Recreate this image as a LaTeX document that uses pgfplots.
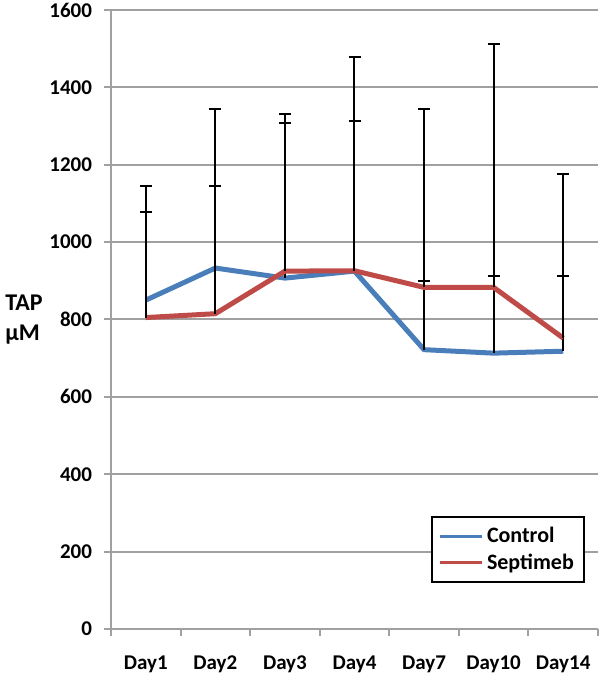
\documentclass[border=0pt]{standalone}
\usepackage{pgfplots}
\pgfplotsset{compat=1.18}
\usepackage{fontspec}
\setmainfont{Carlito}
\definecolor{ctrlblue}{HTML}{4A7EBB}
\definecolor{septred}{HTML}{BE4B48}
\definecolor{gridgray}{HTML}{A0A0A0}

\begin{document}
\begin{tikzpicture}
\begin{axis}[
  at={(0,0)}, anchor=south west,
  scale only axis,
  width=243.5pt, height=309.5pt,
  xmin=-0.5, xmax=6.5, ymin=0, ymax=1600,
  xtick={-0.5,0.5,...,6.5},
  xticklabels={Day1,Day2,Day3,Day4,Day7,Day10,Day14},
  x tick label as interval,
  ytick={0,200,...,1600},
  ymajorgrids, grid style={gridgray, line width=1pt},
  axis lines=left, axis line style={gridgray, line width=1pt, -},
  tick style={gridgray, line width=1pt},
  tick align=outside, major tick length=3.5pt,
  /pgf/number format/assume math mode=true,
  /pgf/number format/1000 sep={},
  tick label style={font=\fontsize{10.5}{12}\selectfont\bfseries},
  xticklabel style={yshift=-6.5pt},
  yticklabel style={xshift=-2.5pt},
  ylabel={TAP\\μM},
  ylabel style={rotate=-90, align=left, anchor=west, inner sep=0pt,
    at={(axis description cs:-0.2177,0.5)},
    font=\fontsize{12}{15}\selectfont\bfseries},
  legend style={at={(axis description cs:0.973,0.074)}, anchor=south east,
    draw=black, line width=1pt, font=\fontsize{11}{13}\selectfont\bfseries,
    inner xsep=3pt, inner ysep=3pt, row sep=0pt},
  legend cell align=left,
  legend image code/.code={\draw[#1, line width=1.5pt] (0pt,0pt) -- (21pt,0pt);},
  error bars/y dir=plus, error bars/y explicit,
  error bars/error bar style={black, line width=1pt},
  error bars/error mark options={rotate=90, mark size=3pt, black, line width=1pt},
]
\addplot[ctrlblue, line width=2.5pt, mark=none] coordinates {
  (0,850) += (0,295)
  (1,933) += (0,410)
  (2,907) += (0,423)
  (3,925) += (0,553)
  (4,722) += (0,621)
  (5,713) += (0,799)
  (6,718) += (0,457)
};
\addplot[septred, line width=2.5pt, mark=none] coordinates {
  (0,805) += (0,272)
  (1,815) += (0,330)
  (2,925) += (0,382)
  (3,926) += (0,387)
  (4,883) += (0,17)
  (5,883) += (0,30)
  (6,752) += (0,161)
};
\legend{Control,Septimeb}
\end{axis}
\pgfresetboundingbox
\useasboundingbox (-55.5pt,-25.5pt) rectangle (244.5pt,314.5pt);
\end{tikzpicture}
\end{document}
